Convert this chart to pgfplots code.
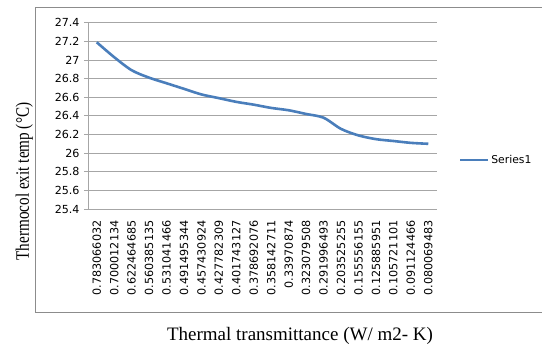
\documentclass[border=0pt]{standalone}
\usepackage{pgfplots}
\pgfplotsset{compat=1.18}
\usepackage{fontspec}
\setmainfont{Liberation Serif}
\newfontfamily\tickfont{DejaVu Sans}
\definecolor{series}{HTML}{4A7EBB}
\definecolor{gridc}{HTML}{A6A6A6}
\definecolor{framec}{HTML}{8C8C8C}
\begin{document}
\begin{tikzpicture}
\useasboundingbox (-88pt,-136pt) rectangle (454pt,209pt);
\draw[framec, line width=0.8pt] (600pt,202pt) -- (-52.5pt,202pt) -- (-52.5pt,-103pt) -- (600pt,-103pt);
\begin{axis}[
  at={(0pt,0pt)}, anchor=south west,
  scale only axis, width=349pt, height=186.3pt,
  xmin=0.5, xmax=20.5, ymin=25.4, ymax=27.4,
  axis x line=bottom, axis y line=left,
  axis line style={gridc, line width=0.8pt, -},
  ytick distance=0.2,
  ymajorgrids, grid style={gridc, line width=0.8pt},
  major tick style={gridc, line width=0.8pt},
  minor tick style={gridc, line width=0.8pt},
  y tick label style={font=\tickfont\fontsize{11.1}{12}\selectfont, xshift=-1pt},
  /pgf/number format/.cd, fixed, precision=1, assume math mode=true, /pgfplots/.cd,
  tick align=outside, major tick length=4pt,
  xtick={1,...,20},
  x tick style={draw=none},
  minor xtick={0.5,1.5,...,20.5},
  minor tick length=5pt,
  xticklabels={0.783066032,0.700012134,0.622464685,0.560385135,0.531041466,0.491495344,0.457430924,0.427782309,0.401743127,0.378692076,0.358142711,0.33970874,0.323079508,0.291996493,0.203525255,0.155556155,0.125885951,0.105721101,0.091124466,0.080069483},
  x tick label style={font=\tickfont\fontsize{11.2}{12}\selectfont, rotate=90, anchor=east, yshift=0pt, xshift=-4pt},
  legend style={at={(1.063,0.263)}, anchor=west, draw=none, fill=none, inner sep=0pt, font=\tickfont\fontsize{10.8}{12}\selectfont},
  legend image code/.code={\draw[#1, line width=2.2pt] (0pt,0pt) -- (28pt,0pt);},
  legend cell align=left,
  clip=false,
]
\addplot[series, line width=2.6pt, smooth, tension=0.5] coordinates {
(1,27.19) (2,27.03) (3,26.89) (4,26.81) (5,26.75) (6,26.69) (7,26.63) (8,26.59) (9,26.55) (10,26.52)
(11,26.485) (12,26.46) (13,26.42) (14,26.38) (15,26.26) (16,26.19) (17,26.15) (18,26.13) (19,26.11) (20,26.10)
};
\addlegendentry{Series1}
\end{axis}
\node[anchor=base, font=\fontsize{19}{22}\selectfont] at (212pt,-131.7pt) {Thermal transmittance (W/ m2- K)};
\node[anchor=base, rotate=90, xscale=0.8, font=\fontsize{19}{22}\selectfont] at (-59pt,27.5pt) {Thermocol exit temp (°C)};
\end{tikzpicture}
\end{document}
